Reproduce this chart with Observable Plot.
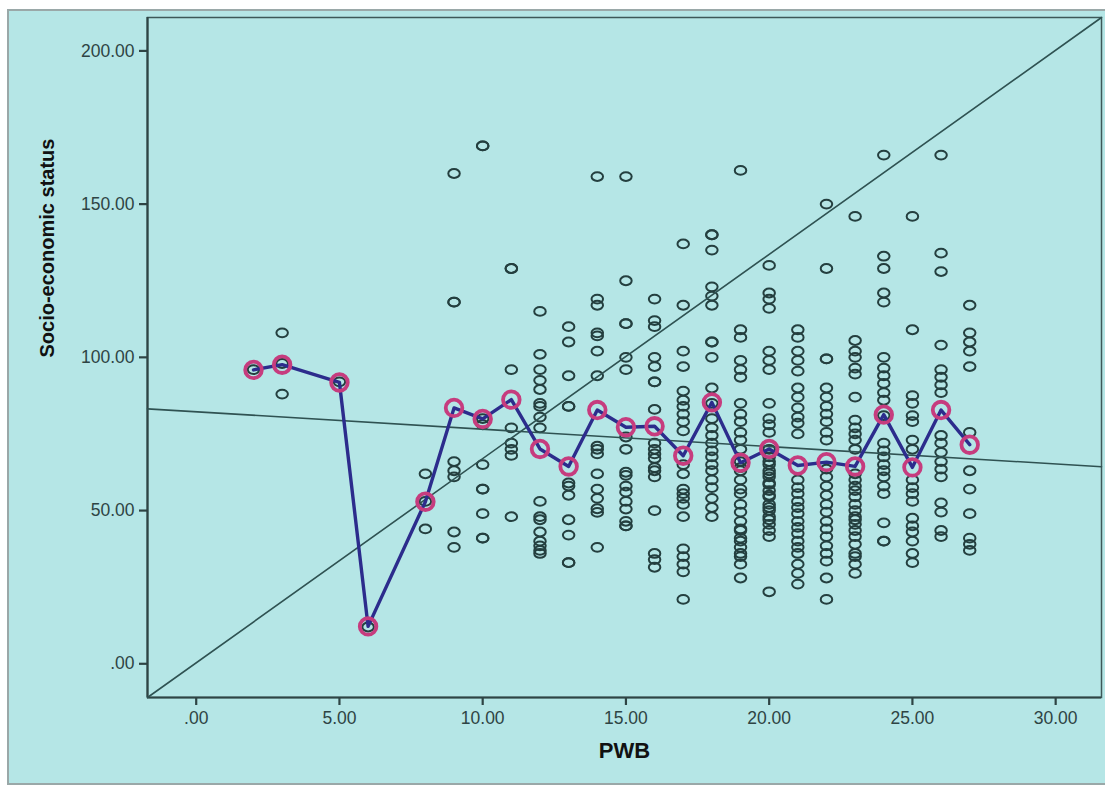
<!DOCTYPE html>
<html>
<head>
<meta charset="utf-8">
<script src="https://cdn.jsdelivr.net/npm/d3@7"></script>
<script src="https://cdn.jsdelivr.net/npm/@observablehq/plot@0.6"></script>
<style>
  html, body { margin: 0; padding: 0; background: #ffffff; }
  #wrap { position: relative; width: 1105px; height: 785px; overflow: hidden; }
  #panel { position: absolute; left: 7px; top: 9px; width: 1104px; height: 772px;
           background: #b5e6e6; border-left: 2px solid #9aa8a8; border-top: 2px solid #9aa8a8;
           border-bottom: 2px solid #9aa8a8; }
  #chart { position: absolute; left: 0; top: 0; }
</style>
</head>
<body>
<div id="wrap"><div id="panel"></div><div id="chart"></div></div>
<script>
// ---- data ----
const xDomain = [-1.7, 31.6];
const yDomain = [-11, 210.9];
const xTicks = [0, 5, 10, 15, 20, 25, 30];
const yTicks = [0, 50, 100, 150, 200];

// PWB levels and the socio-economic status of respondents at each level
const pwbLevels = [2, 3, 5, 6, 8, 9, 10, 11, 12, 13, 14, 15, 16, 17, 18, 19, 20, 21, 22, 23, 24, 25, 26, 27];
const sesByLevel = [
  [96],
  [108, 98, 88],
  [92],
  [12],
  [62, 53, 44],
  [160, 118, 118, 66, 63, 61, 43, 38],
  [169, 169, 80, 78, 65, 57, 57, 49, 41, 41],
  [129, 129, 96, 77, 72, 70, 68, 48],
  [115, 101, 96, 92.5, 89.5, 85, 84, 80.5, 77, 53, 48, 47, 43, 40, 38.5, 37, 36],
  [110, 105, 94, 84, 84, 59, 58, 55, 47, 42, 33, 33],
  [159, 119, 117, 108, 107, 102, 94, 71, 70, 68.5, 62, 57, 54, 50.6, 49.4, 38],
  [159, 125, 111, 111, 100, 96, 74, 70, 62.5, 61.5, 58, 56, 53, 50.5, 46.5, 45, 45],
  [119, 112, 110, 100, 97, 92, 92, 83, 72, 70, 68.5, 67, 64, 63, 61, 50, 36, 34, 31.5],
  [137, 117, 102, 97, 89, 86, 84, 81.5, 79, 76, 65, 62, 57, 55.5, 54, 52, 48, 37.5, 35, 32.5, 30, 21],
  [140, 140, 135, 123, 120, 117, 105, 105, 100, 90, 85, 80, 77, 74.5, 72, 69.5, 67.5, 65, 63, 60, 57.5, 54, 51, 48],
  [161, 109, 106.5, 99, 96, 93.5, 85, 81.5, 79, 75.5, 73, 70, 66, 64, 63, 60, 57, 55.5, 52, 49.5, 46.5, 44, 43.5, 41, 40, 38, 36, 35, 32.5, 28],
  [130, 121, 119, 116, 102, 99, 96, 85, 80, 78, 75.5, 70, 67.5, 66, 65, 63, 62, 61, 59, 58.5, 56.5, 55, 54.5, 52, 51, 50, 48, 47, 45.5, 43.5, 41.5, 23.5],
  [109, 106.5, 102, 99, 95.5, 90, 87, 83.5, 80.5, 78.5, 75, 60, 57.5, 55.5, 53, 51, 49, 46.5, 44.5, 42.5, 40, 38, 36, 32.5, 29.5, 26],
  [150, 129, 99.5, 99.5, 90, 87, 84, 81.5, 79, 75.5, 73, 63.5, 61, 58, 55, 52, 49.5, 46.5, 44, 41.5, 38.5, 36, 33.5, 28, 21],
  [146, 105.5, 102, 100, 96.5, 94.5, 87, 79.5, 77, 75, 73, 70, 62, 60, 58, 56.5, 54.5, 52, 50, 48, 47, 45.5, 43.5, 41.5, 39, 36, 35, 32.5, 29.5],
  [166, 133, 129, 121, 118, 100, 96.5, 94, 91.5, 88.5, 86, 81, 72, 69.5, 67.5, 65, 63, 61, 58, 55.5, 46, 40, 40],
  [146, 109, 87.5, 85, 81, 79, 73, 70, 60, 57.5, 55.5, 53, 47.5, 45, 43, 40, 36, 33],
  [166, 134, 128, 104, 96, 93.5, 91, 88.5, 74.5, 72, 69, 66, 63.5, 61, 52.5, 49.5, 43.5, 41.5],
  [117, 108, 105, 102, 97, 75.5, 63, 57, 49, 41, 39, 37]
];

// mean socio-economic status at each PWB level (pink markers joined by the blue line)
const meanPwb = [2, 3, 5, 6, 8, 9, 10, 11, 12, 13, 14, 15, 16, 17, 18, 19, 20, 21, 22, 23, 24, 25, 26, 27];
const meanSes = [95.9, 97.6, 91.8, 12.2, 52.9, 83.5, 79.9, 86.2, 70.1, 64.4, 82.8, 77.2, 77.5, 67.9, 85.3, 65.6, 70.1, 64.7, 65.8, 64.4, 81.3, 64.1, 82.8, 71.5];

// straight lines drawn across the plot
const fitLineX = [-1.7, 31.6];
const fitLineY = [83.2, 64.3];
const refLineX = [-1.7, 31.6];
const refLineY = [-11, 210.9];

// ---- build tables ----
const scatter = pwbLevels.flatMap((p, i) => sesByLevel[i].map(s => ({pwb: p, ses: s})));
const means = meanPwb.map((p, i) => ({pwb: p, ses: meanSes[i]}));
const fitLine = fitLineX.map((x, i) => ({x, y: fitLineY[i]}));
const refLine = refLineX.map((x, i) => ({x, y: refLineY[i]}));

const fmt = v => v === 0 ? ".00" : v.toFixed(2);

// slightly wide ellipse, like the SPSS markers
const ellipse = {
  draw(ctx, size) {
    const r = Math.sqrt(size / Math.PI);
    const rx = r * 1.15, ry = r * 0.88, k = 0.5523;
    ctx.moveTo(rx, 0);
    ctx.bezierCurveTo(rx, ry * k, rx * k, ry, 0, ry);
    ctx.bezierCurveTo(-rx * k, ry, -rx, ry * k, -rx, 0);
    ctx.bezierCurveTo(-rx, -ry * k, -rx * k, -ry, 0, -ry);
    ctx.bezierCurveTo(rx * k, -ry, rx, -ry * k, rx, 0);
    ctx.closePath();
  }
};

const axisColor = "#2e4444";

const chart = Plot.plot({
  width: 1105,
  height: 785,
  marginLeft: 147,
  marginTop: 17,
  marginRight: 4,
  marginBottom: 88,
  x: {domain: xDomain},
  y: {domain: yDomain},
  style: {background: "transparent", fontFamily: "'Liberation Sans', Arial, sans-serif", fontSize: "17px", color: axisColor, overflow: "visible"},
  marks: [
    Plot.frame({stroke: "#3d5858", strokeWidth: 1.5}),
    Plot.ruleX([xDomain[0]], {stroke: axisColor, strokeWidth: 2.2}),
    Plot.ruleY([yDomain[0]], {stroke: axisColor, strokeWidth: 2.2}),
    Plot.axisX({ticks: xTicks, tickFormat: fmt, tickSize: 8, tickPadding: 6, strokeWidth: 2.2, stroke: axisColor, fill: axisColor, label: null, fontSize: 17.5}),
    Plot.axisY({ticks: yTicks, tickFormat: fmt, tickSize: 8, tickPadding: 5, strokeWidth: 2.2, stroke: axisColor, fill: axisColor, label: null, fontSize: 17.5}),
    Plot.dot(scatter, {x: "pwb", y: "ses", r: 5, symbol: ellipse, stroke: "#243f3f", strokeWidth: 2, fill: "none"}),
    Plot.line(refLine, {x: "x", y: "y", stroke: "#2f5252", strokeWidth: 1.6}),
    Plot.line(fitLine, {x: "x", y: "y", stroke: "#2f5252", strokeWidth: 1.6}),
    Plot.line(means, {x: "pwb", y: "ses", stroke: "#2c2c8c", strokeWidth: 3.4}),
    Plot.dot(means, {x: "pwb", y: "ses", r: 8.3, stroke: "#c63c7e", strokeWidth: 3.8, fill: "none"}),
    Plot.text(["PWB"], {frameAnchor: "bottom", dy: 60, text: d => d, fontWeight: "bold", fontSize: 22, fill: "#111"}),
    Plot.text(["Socio-economic status"], {frameAnchor: "left", dx: -100, rotate: -90, text: d => d, fontWeight: "bold", fontSize: 20, fill: "#111"})
  ]
});
document.getElementById("chart").appendChild(chart);
</script>
</body>
</html>
